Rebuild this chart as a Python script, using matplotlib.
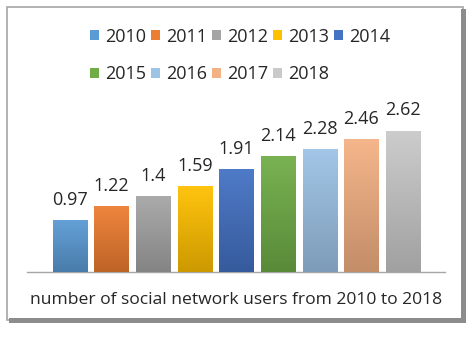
import numpy as np
import matplotlib
matplotlib.use('Agg')
import matplotlib.pyplot as plt
from matplotlib.colors import LinearSegmentedColormap, to_rgb
from matplotlib.patches import Rectangle, Patch

years = ['2010', '2011', '2012', '2013', '2014', '2015', '2016', '2017', '2018']
users = [0.97, 1.22, 1.4, 1.59, 1.91, 2.14, 2.28, 2.46, 2.62]
colors = ['#5B9BD5', '#ED7D31', '#A5A5A5', '#FFC000', '#4472C4',
          '#70AD47', '#9DC3E6', '#F4B183', '#C9C9C9']
title = 'number of social network users from 2010 to 2018'

plt.rcParams['font.family'] = ['Open Sans', 'DejaVu Sans']

W, H = 474, 338
fig = plt.figure(figsize=(W / 100, H / 100), dpi=100)


def px(x0, y0, x1, y1):
    # pixel box (top-left origin) -> figure fraction rect
    return [x0 / W, 1 - y1 / H, (x1 - x0) / W, (y1 - y0) / H]


# frame with bevel / shadow like the office chart
fr = px(7, 7, 463, 320)
fig.patches.append(Rectangle((fr[0], fr[1]), fr[2], fr[3], transform=fig.transFigure,
                             facecolor='white', edgecolor='#A6A6A6', lw=1.2, zorder=-3))
sr = px(461, 9, 466, 323)
fig.patches.append(Rectangle((sr[0], sr[1]), sr[2], sr[3], transform=fig.transFigure,
                             facecolor='#8C8C8C', edgecolor='none', zorder=-2))
sb = px(9, 318, 466, 323)
fig.patches.append(Rectangle((sb[0], sb[1]), sb[2], sb[3], transform=fig.transFigure,
                             facecolor='#8C8C8C', edgecolor='none', zorder=-2))

ax = fig.add_axes(px(27, 110, 445, 272))
ax.set_facecolor('none')
x = np.arange(len(years))
bars = ax.bar(x, users, width=0.82, color=colors, zorder=2)

# vertical gradient: lighter on top, darker at bottom
grad = np.linspace(0, 1, 64).reshape(-1, 1)
for b, c in zip(bars, colors):
    r = np.array(to_rgb(c))
    top = r + (1 - r) * 0.06
    bot = r * 0.80
    cmap = LinearSegmentedColormap.from_list('g', [bot, top])
    im = ax.imshow(grad, cmap=cmap, aspect='auto', origin='lower',
                   extent=(b.get_x(), b.get_x() + b.get_width(), 0, b.get_height()),
                   zorder=3)
    im.set_clip_path(b)

ax.bar_label(bars, labels=[f'{v:g}' for v in users], padding=8,
             fontsize=13, color='#262626', zorder=4)

ax.set_xlim(-1.03, 9.01)
ax.set_ylim(0, 3)
for s in ['top', 'left', 'right']:
    ax.spines[s].set_visible(False)
ax.spines['bottom'].set_color('#A6A6A6')
ax.spines['bottom'].set_linewidth(1)
ax.set_xticks([])
ax.set_yticks([])

# legend: 5 on first row, 4 on second
handles = [Patch(facecolor=c, edgecolor='none') for c in colors]
order = [0, 5, 1, 6, 2, 7, 3, 8, 4]
fig.legend([handles[i] for i in order], [years[i] for i in order],
           ncol=5, loc='center', bbox_to_anchor=(240 / W, 1 - 55.5 / H),
           frameon=False, fontsize=13, handlelength=0.5, handleheight=0.5,
           handletextpad=0.35, columnspacing=0.25, labelspacing=1.1,
           labelcolor='#262626')

fig.text(236 / W, 1 - 300 / H, title, ha='center', va='center',
         fontsize=12.6, color='#262626')

fig.savefig('out.png', dpi=100)
